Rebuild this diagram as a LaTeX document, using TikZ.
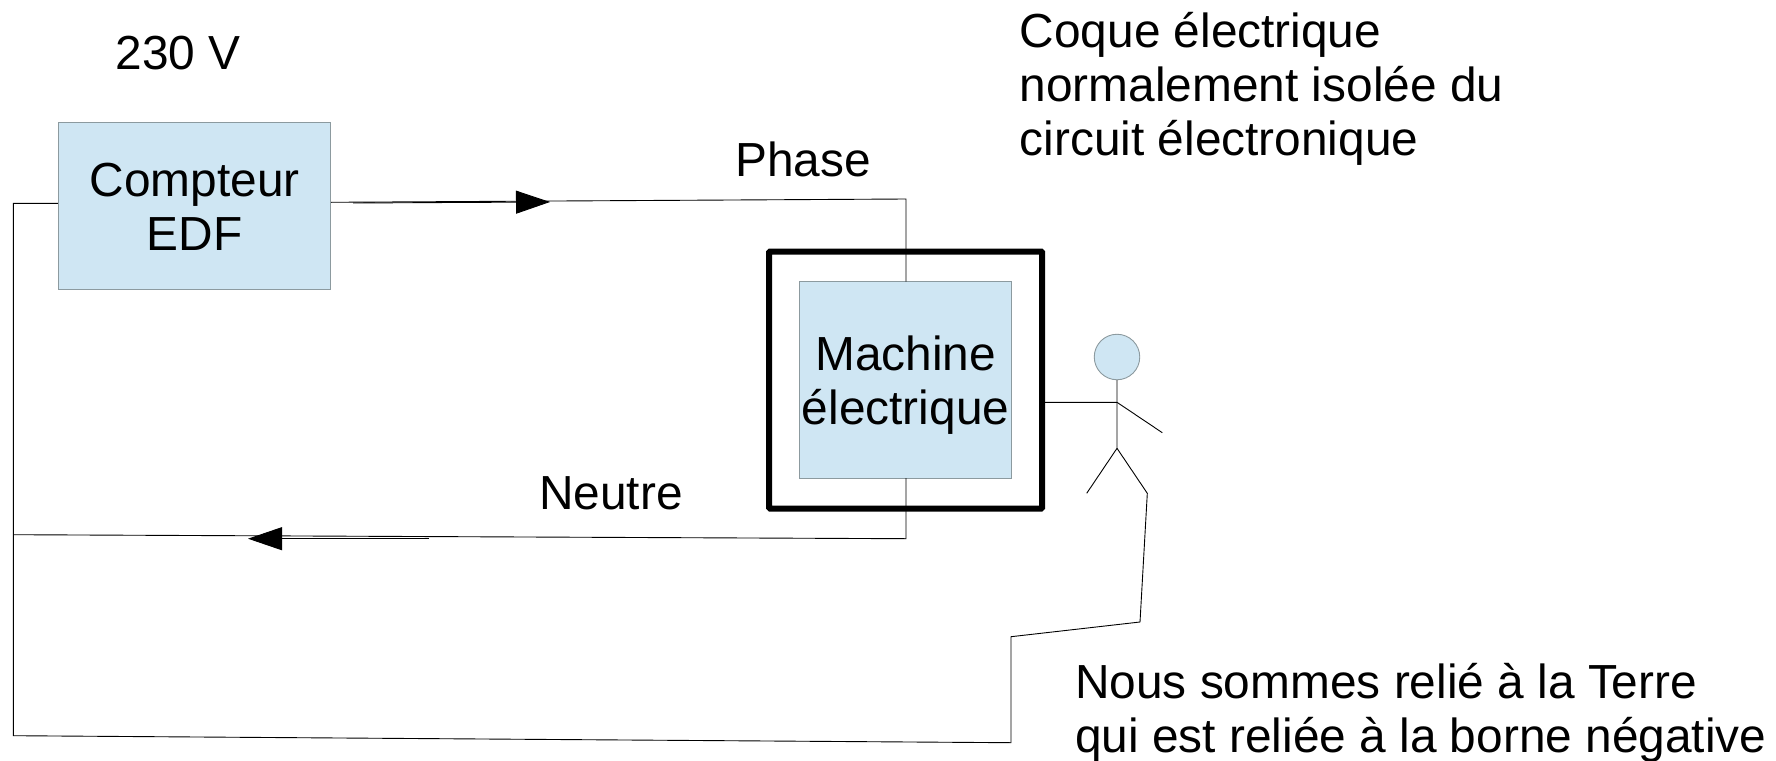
\documentclass[tikz,border=0pt]{standalone}
\usepackage{fontspec}
\setmainfont{Liberation Sans}
\usetikzlibrary{arrows.meta}
\definecolor{boxblue}{HTML}{CFE6F3}
\definecolor{boxedge}{HTML}{8C9A9F}
\tikzset{
  bluebox/.style={draw=boxedge,fill=boxblue,line width=0.9pt,inner sep=0pt},
  boxtext/.style={inner sep=0pt,align=center,font=\bigfont},
  wire/.style={draw=black,line width=0.9pt,line join=miter},
  flow/.style={draw=black,line width=0.9pt,-{Triangle[length=34pt,width=23pt]}},
  shell/.style={draw=black,line width=6pt,rounded corners=1pt,inner sep=0pt},
  label/.style={inner sep=0pt,anchor=base west,font=\bigfont,align=left},
}
\newcommand{\bigfont}{\fontsize{47.82}{54}\selectfont}
\begin{document}
\begin{tikzpicture}[x=1pt,y=-1pt]
\useasboundingbox (0,0) rectangle (1776,760);
% coordinates of free ends and bends
\coordinate (lefttop) at (13.3,203.3);
\coordinate (leftbot) at (13.3,735.7);
\coordinate (neutleft) at (13.3,534.7);
\coordinate (ticktop) at (13.3,505);
\coordinate (phaseout) at (331,202.3);
\coordinate (phasecorner) at (906,199);
\coordinate (phasein) at (906,281.5);
\coordinate (neutout) at (906,478);
\coordinate (neutcorner) at (906,538.7);
\coordinate (arrowAstart) at (353,203);
\coordinate (arrowAend) at (550,202);
\coordinate (arrowBstart) at (429,538.7);
\coordinate (arrowBend) at (248,538.7);
\coordinate (shoulder) at (1117,402.3);
\coordinate (hip) at (1117,448.3);
\coordinate (handR) at (1162.3,432.7);
\coordinate (touch) at (1044,402.3);
\coordinate (footL) at (1086.7,493.3);
\coordinate (footR) at (1147.3,493.3);
\coordinate (g1) at (1140,622);
\coordinate (g2) at (1011,636.7);
\coordinate (g3) at (1011,742.7);
\node[shell,minimum width=273pt,minimum height=257pt] (coque) at (905.5,380) {};
\node[bluebox,minimum width=272.5pt,minimum height=166.5pt] (compteur) at (194.5,206) {};
\node[boxtext] (compteurtext) at (194.7,207.3) {Compteur\\EDF};
\node[bluebox,minimum width=212pt,minimum height=196.5pt] (machine) at (905.6,380) {};
\node[boxtext] (machinetext) at (905.6,385) {Machine\\électrique};
\node[draw=boxedge,fill=boxblue,line width=0.9pt,circle,minimum size=45.5pt,inner sep=0pt] (tete) at (1117,357) {};
% wires
\draw[wire] (compteur.west |- lefttop) -- (lefttop) -- (leftbot) -- (g3) -- (g2) -- (g1) -- (footR) -- (hip);
\draw[wire] (ticktop) -- (neutleft);
\draw[wire] (phaseout) -- (phasecorner) -- (phasein);
\draw[wire] (neutout) -- (neutcorner) -- (neutleft);
\draw[flow] (arrowAstart) -- (arrowAend);
\draw[flow] (arrowBstart) -- (arrowBend);
% person
\draw[wire] (tete.south) -- (hip) -- (footL);
\draw[wire] (touch) -- (shoulder) -- (handR);
% labels
\node[label] (v) at (115.5,70) {230 V};
\node[label] (c1) at (1019.5,47.6) {Coque électrique};
\node[label] (c2) at (1019.5,101.4) {normalement isolée du};
\node[label] (c3) at (1019.5,155.2) {circuit électronique};
\node[label] (ph) at (735.3,176.7) {Phase};
\node[label] (ne) at (539,509) {Neutre};
\node[label] (n1) at (1075,698.5) {Nous sommes relié à la Terre};
\node[label] (n2) at (1075,752) {qui est reliée à la borne négative};
\end{tikzpicture}
\end{document}
